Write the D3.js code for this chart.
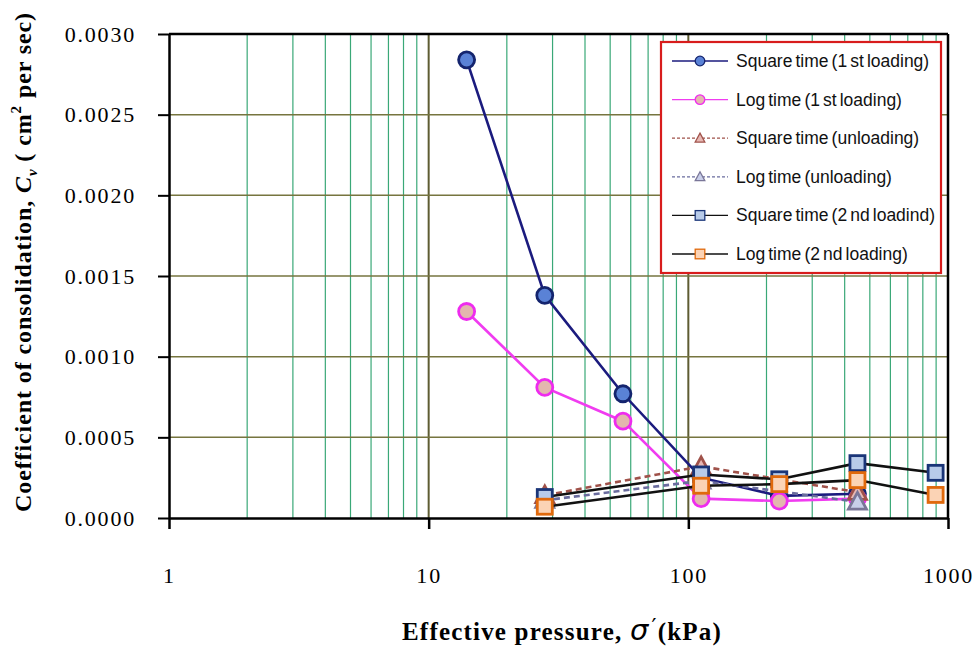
<!DOCTYPE html>
<html>
<head>
<meta charset="utf-8">
<script src="https://cdn.jsdelivr.net/npm/d3@7"></script>
<style>
  html, body { margin: 0; padding: 0; background: #fff; }
  svg { display: block; }
</style>
</head>
<body>
<svg id="chart" width="977" height="646"></svg>
<script>
// Effective pressure (kPa) for each loading stage
const pressureLoad1 = [14, 28, 56, 112, 224, 448];
const pressureUnload = [448, 112, 28];
const pressureLoad2 = [28, 112, 224, 448, 896];

// Coefficient of consolidation Cv (cm² per sec)
const cvSquareLoad1 = [0.00284, 0.00138, 0.00077, 0.00025, 0.000137, 0.00015];
const cvLogLoad1 = [0.00128, 0.00081, 0.00060, 0.00012, 0.000105, 0.00012];
const cvSquareUnload = [0.00016, 0.00032, 0.00014];
const cvLogUnload = [0.00010, 0.00023, 0.00011];
const cvSquareLoad2 = [0.00013, 0.00027, 0.00024, 0.00034, 0.00028];
const cvLogLoad2 = [0.00007, 0.00020, 0.00021, 0.000235, 0.000143];

// Axis ticks
const xTicks = [1, 10, 100, 1000];
const yTicks = [0, 0.0005, 0.0010, 0.0015, 0.0020, 0.0025, 0.0030];

const seriesNames = [
  "Square time (1 st loading)",
  "Log time (1 st loading)",
  "Square time (unloading)",
  "Log time (unloading)",
  "Square time (2 nd loadind)",
  "Log time (2 nd loading)"
];

const series = [
  { name: seriesNames[0], xs: pressureLoad1, ys: cvSquareLoad1, line: "#1b1b7e", dash: null, shape: "circle", fill: "#5a82d6", stroke: "#14246e", size: 8 },
  { name: seriesNames[1], xs: pressureLoad1, ys: cvLogLoad1, line: "#f03cf0", dash: null, shape: "circle", fill: "#e3b7ae", stroke: "#ee2cee", size: 8 },
  { name: seriesNames[2], xs: pressureUnload, ys: cvSquareUnload, line: "#a0524a", dash: "6,4", shape: "triangle", fill: "#e7b8b4", stroke: "#a0524a", size: 9 },
  { name: seriesNames[3], xs: pressureUnload, ys: cvLogUnload, line: "#6a6c9e", dash: "6,4", shape: "triangle", fill: "#c9cfea", stroke: "#7a7698", size: 9 },
  { name: seriesNames[4], xs: pressureLoad2, ys: cvSquareLoad2, line: "#111111", dash: null, shape: "square", fill: "#b8cbe9", stroke: "#1a3578", size: 7.5 },
  { name: seriesNames[5], xs: pressureLoad2, ys: cvLogLoad2, line: "#111111", dash: null, shape: "square", fill: "#fbd3b5", stroke: "#e0690c", size: 7.5 }
];

const svg = d3.select("#chart");
const plotLeft = 169, plotRight = 948, plotTop = 34, plotBottom = 518;
const serif = "'Liberation Serif', 'Times New Roman', serif";

const x = d3.scaleLog().domain([1, 1000]).range([plotLeft, plotRight]);
const y = d3.scaleLinear().domain([0, 0.003]).range([plotBottom, plotTop]);

// Vertical grid: minor lines at 2..9 of each decade, heavier lines at decades
const grid = svg.append("g");
const minor = [];
[1, 10, 100].forEach(d => { for (let k = 2; k <= 9; k++) minor.push(d * k); });
grid.selectAll("line.minor").data(minor).join("line")
  .attr("x1", d => x(d)).attr("x2", d => x(d))
  .attr("y1", plotTop).attr("y2", plotBottom)
  .attr("stroke", "#3aa877").attr("stroke-width", 1.2);
grid.selectAll("line.major").data([10, 100]).join("line")
  .attr("x1", d => x(d)).attr("x2", d => x(d))
  .attr("y1", plotTop).attr("y2", plotBottom)
  .attr("stroke", "#5e5c32").attr("stroke-width", 2);
// Horizontal grid
grid.selectAll("line.h").data(yTicks.filter(v => v > 0 && v < 0.003)).join("line")
  .attr("x1", plotLeft).attr("x2", plotRight)
  .attr("y1", d => y(d)).attr("y2", d => y(d))
  .attr("stroke", "#76753f").attr("stroke-width", 1.5);

// Plot frame (top and right)
svg.append("line").attr("x1", plotLeft).attr("x2", plotRight).attr("y1", plotTop).attr("y2", plotTop)
  .attr("stroke", "#000").attr("stroke-width", 2.5);
svg.append("line").attr("x1", plotRight).attr("x2", plotRight).attr("y1", plotTop).attr("y2", plotBottom)
  .attr("stroke", "#000").attr("stroke-width", 2.5);

// Axes
const yAxis = d3.axisLeft(y).tickValues(yTicks).tickFormat(d3.format(".4f"))
  .tickSizeInner(11).tickSizeOuter(0).tickPadding(22);
const gy = svg.append("g").attr("transform", `translate(${plotLeft},0)`).call(yAxis);
gy.select(".domain").attr("stroke", "#000").attr("stroke-width", 2.5);
gy.selectAll(".tick line").attr("stroke", "#000").attr("stroke-width", 2);
gy.selectAll(".tick text").attr("font-family", serif)
  .attr("font-size", 22).attr("fill", "#000").attr("letter-spacing", 1.8);

const xAxis = d3.axisBottom(x).tickValues(xTicks).tickFormat(d3.format("d"))
  .tickSizeInner(11).tickSizeOuter(0).tickPadding(38);
const gx = svg.append("g").attr("transform", `translate(0,${plotBottom})`).call(xAxis);
gx.select(".domain").attr("stroke", "#000").attr("stroke-width", 2.5);
gx.selectAll(".tick line").attr("stroke", "#000").attr("stroke-width", 2.5);
gx.selectAll(".tick text").attr("font-family", serif)
  .attr("font-size", 22).attr("fill", "#000").attr("letter-spacing", 1.8);

// Marker drawing helper
function marker(sel, shape, size) {
  if (shape === "circle") {
    return sel.append("circle").attr("r", size);
  } else if (shape === "square") {
    return sel.append("rect").attr("x", -size).attr("y", -size)
      .attr("width", size * 2).attr("height", size * 2);
  } else {
    const s = size;
    return sel.append("path").attr("d", `M0,${-s * 1.05}L${s},${s * 0.8}L${-s},${s * 0.8}Z`);
  }
}

// Series lines and markers
const line = d3.line().x(d => x(d[0])).y(d => y(d[1]));
series.forEach(s => {
  const pts = s.xs.map((v, i) => [v, s.ys[i]]);
  const g = svg.append("g");
  g.append("path").datum(pts).attr("d", line)
    .attr("fill", "none").attr("stroke", s.line).attr("stroke-width", 2.6)
    .attr("stroke-dasharray", s.dash);
  pts.forEach(p => {
    const m = g.append("g").attr("transform", `translate(${x(p[0])},${y(p[1])})`);
    marker(m, s.shape, s.size).attr("fill", s.fill).attr("stroke", s.stroke).attr("stroke-width", 2.8);
  });
});

// Legend
const legend = svg.append("g");
legend.append("rect").attr("x", 661).attr("y", 42).attr("width", 280).attr("height", 231)
  .attr("fill", "#fff").attr("stroke", "#d81c1c").attr("stroke-width", 2.2);
series.forEach((s, i) => {
  const ly = 61 + i * 38.6;
  const g = legend.append("g");
  g.append("line").attr("x1", 672).attr("x2", 728).attr("y1", ly).attr("y2", ly)
    .attr("stroke", s.line).attr("stroke-width", 1.3)
    .attr("stroke-dasharray", s.dash ? "3,2" : null);
  const m = g.append("g").attr("transform", `translate(700,${ly})`);
  marker(m, s.shape, 4.8)
    .attr("fill", s.fill).attr("stroke", s.stroke).attr("stroke-width", 1.3);
  g.append("text").attr("x", 736).attr("y", ly + 6)
    .attr("font-family", "'Liberation Sans', Arial, sans-serif").attr("font-size", 17.5)
    .attr("word-spacing", -1.8).attr("fill", "#111").text(s.name);
});

// Axis titles
const yTitle = svg.append("text")
  .attr("transform", "translate(31,262) rotate(-90)")
  .attr("text-anchor", "middle")
  .attr("font-family", serif).attr("letter-spacing", 0.9)
  .attr("font-size", 24).attr("font-weight", "bold").attr("fill", "#000");
yTitle.append("tspan").text("Coefficient of consolidation, ");
yTitle.append("tspan").attr("font-style", "italic").text("C");
yTitle.append("tspan").attr("font-style", "italic").attr("font-size", 15).attr("dy", 6).text("v");
yTitle.append("tspan").attr("dy", -6).text(" ( cm");
yTitle.append("tspan").attr("font-size", 15).attr("dy", -10).text("2");
yTitle.append("tspan").attr("dy", 10).text(" per sec)");

const xTitle = svg.append("text")
  .attr("x", 562).attr("y", 640).attr("text-anchor", "middle")
  .attr("font-family", serif).attr("letter-spacing", 1.2)
  .attr("font-size", 25).attr("font-weight", "bold").attr("fill", "#000");
xTitle.append("tspan").text("Effective pressure, ");
xTitle.append("tspan").attr("font-family", "'DejaVu Sans', sans-serif").attr("font-weight", "normal")
  .attr("font-style", "italic").attr("font-size", 29).text("σ");
xTitle.append("tspan").attr("font-family", "'DejaVu Sans', sans-serif").attr("font-weight", "normal")
  .attr("font-size", 22).attr("dx", 2).attr("dy", -6).text("′");
xTitle.append("tspan").attr("dy", 6).text("(kPa)");
</script>
</body>
</html>
